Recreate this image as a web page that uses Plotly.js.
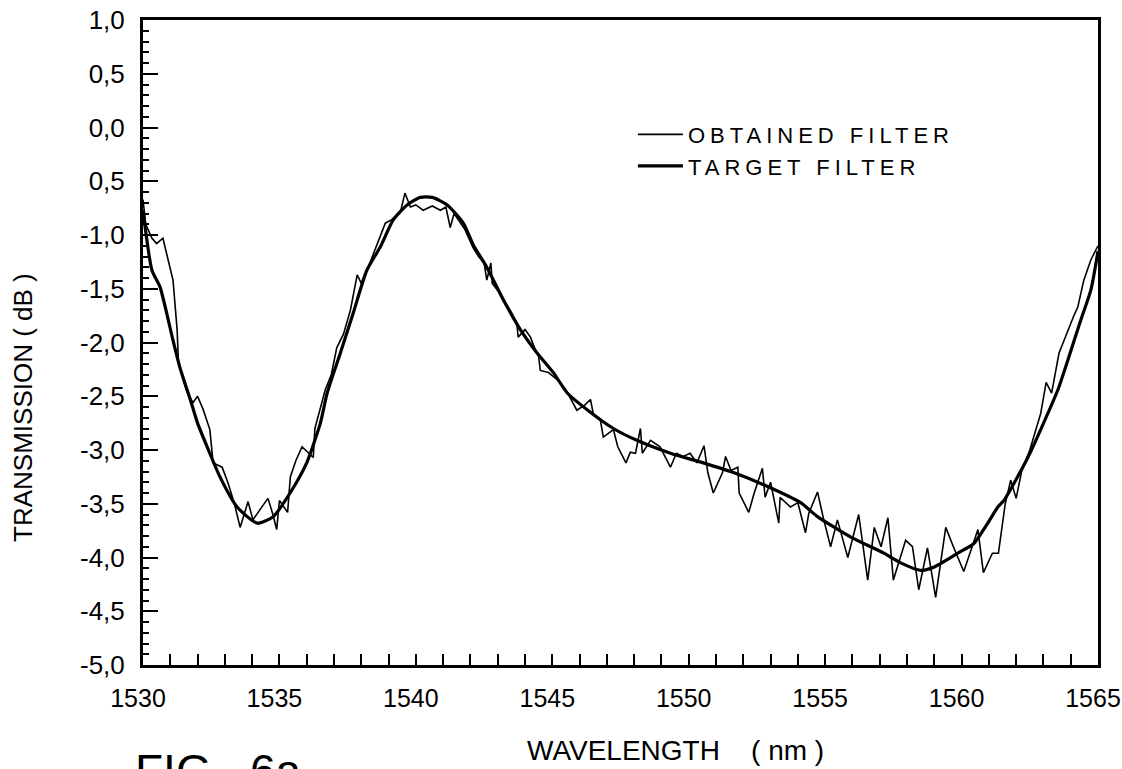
<!DOCTYPE html>
<html>
<head>
<meta charset="utf-8">
<script src="https://cdn.plot.ly/plotly-3.0.1.min.js"></script>
<style>
  html, body { margin: 0; padding: 0; background: #fff; }
  #chart { width: 1122px; height: 769px; }
  .legendtext { letter-spacing: 5px; }
</style>
</head>
<body>
<div id="chart"></div>
<script>
// Wavelength (nm) / transmission (dB)
const targetX = [1530, 1530.33, 1530.62, 1531.1, 1531.36, 1531.72, 1532.0, 1532.35, 1532.82, 1533.45, 1534.18, 1534.77, 1535.39, 1536.0, 1536.5, 1536.75, 1537.23, 1537.7, 1538.2, 1538.7, 1539.17, 1539.68, 1540.16, 1540.6, 1541.15, 1541.74, 1542.1, 1542.6, 1543.2, 1543.83, 1544.45, 1545.04, 1545.55, 1546.3, 1547.24, 1548.1, 1549.33, 1550.54, 1551.64, 1552.89, 1554.1, 1554.72, 1555.94, 1557.15, 1557.77, 1558.5, 1558.98, 1559.86, 1560.45, 1560.96, 1561.33, 1561.55, 1562.43, 1562.9, 1563.53, 1563.9, 1564.37, 1564.74, 1565];
const targetY = [-0.77, -1.33, -1.48, -1.98, -2.24, -2.52, -2.75, -2.97, -3.25, -3.53, -3.68, -3.62, -3.40, -3.12, -2.75, -2.47, -2.1, -1.73, -1.33, -1.11, -0.86, -0.72, -0.65, -0.65, -0.72, -0.89, -1.09, -1.30, -1.60, -1.88, -2.10, -2.28, -2.47, -2.63, -2.80, -2.91, -3.03, -3.12, -3.21, -3.34, -3.49, -3.62, -3.81, -3.96, -4.05, -4.12, -4.09, -3.96, -3.87, -3.68, -3.53, -3.47, -3.07, -2.81, -2.44, -2.16, -1.79, -1.51, -1.15];

const obtainedX = [1530, 1530.1, 1530.33, 1530.5, 1530.73, 1530.9, 1531.1, 1531.25, 1531.3, 1531.6, 1531.83, 1532.0, 1532.2, 1532.45, 1532.57, 1532.9, 1533.12, 1533.35, 1533.56, 1533.85, 1534.03, 1534.3, 1534.58, 1534.75, 1534.9, 1535.0, 1535.3, 1535.4, 1535.6, 1535.83, 1536.05, 1536.24, 1536.3, 1536.68, 1536.9, 1537.1, 1537.35, 1537.6, 1537.85, 1538.0, 1538.33, 1538.6, 1538.88, 1539.1, 1539.43, 1539.6, 1539.8, 1540.0, 1540.27, 1540.6, 1540.9, 1541.1, 1541.26, 1541.4, 1541.8, 1542.1, 1542.3, 1542.5, 1542.6, 1542.75, 1542.8, 1543.1, 1543.5, 1543.7, 1543.75, 1544.0, 1544.2, 1544.35, 1544.5, 1544.56, 1544.86, 1545.2, 1545.5, 1545.9, 1546.2, 1546.4, 1546.5, 1546.76, 1546.87, 1547.24, 1547.4, 1547.7, 1547.86, 1548.05, 1548.23, 1548.3, 1548.6, 1548.95, 1549.33, 1549.55, 1549.8, 1550.05, 1550.3, 1550.56, 1550.7, 1550.9, 1551.24, 1551.35, 1551.55, 1551.8, 1551.85, 1552.2, 1552.4, 1552.7, 1552.8, 1553.0, 1553.3, 1553.35, 1553.73, 1554.0, 1554.28, 1554.4, 1554.72, 1554.95, 1555.2, 1555.45, 1555.83, 1556.23, 1556.56, 1556.8, 1557.05, 1557.3, 1557.5, 1557.95, 1558.2, 1558.43, 1558.75, 1559.05, 1559.42, 1559.7, 1560.08, 1560.6, 1560.8, 1561.13, 1561.35, 1561.6, 1561.8, 1562.0, 1562.2, 1562.5, 1562.9, 1563.1, 1563.3, 1563.57, 1563.9, 1564.1, 1564.26, 1564.48, 1564.74, 1565];
const obtainedY = [-0.67, -0.9, -1.03, -1.08, -1.03, -1.2, -1.42, -1.88, -2.19, -2.45, -2.56, -2.5, -2.62, -2.81, -3.12, -3.16, -3.31, -3.5, -3.72, -3.48, -3.65, -3.55, -3.45, -3.59, -3.74, -3.47, -3.58, -3.25, -3.1, -2.97, -3.02, -3.07, -2.8, -2.44, -2.3, -2.05, -1.92, -1.7, -1.37, -1.45, -1.25, -1.08, -0.89, -0.86, -0.79, -0.61, -0.74, -0.72, -0.77, -0.73, -0.77, -0.74, -0.93, -0.8, -0.95, -1.12, -1.2, -1.26, -1.42, -1.26, -1.45, -1.55, -1.72, -1.82, -1.95, -1.88, -1.95, -2.05, -2.13, -2.26, -2.28, -2.35, -2.44, -2.63, -2.58, -2.53, -2.66, -2.72, -2.88, -2.81, -2.97, -3.12, -3.02, -3.03, -2.80, -3.03, -2.91, -2.97, -3.16, -3.03, -3.06, -3.03, -3.12, -2.96, -3.21, -3.40, -3.21, -3.06, -3.19, -3.16, -3.40, -3.58, -3.40, -3.17, -3.44, -3.30, -3.68, -3.44, -3.53, -3.49, -3.77, -3.59, -3.39, -3.65, -3.90, -3.65, -4.0, -3.60, -4.21, -3.72, -3.90, -3.63, -4.21, -3.84, -3.90, -4.30, -3.91, -4.37, -3.72, -3.90, -4.13, -3.74, -4.14, -3.96, -3.96, -3.5, -3.28, -3.45, -3.2, -3.0, -2.66, -2.37, -2.47, -2.1, -1.88, -1.76, -1.67, -1.42, -1.23, -1.1];

const yTickVals = [1, 0.5, 0, -0.5, -1, -1.5, -2, -2.5, -3, -3.5, -4, -4.5, -5];
const yTickText = ["1,0", "0,5", "0,0", "0,5", "-1,0", "-1,5", "-2,0", "-2,5", "-3,0", "-3,5", "-4,0", "-4,5", "-5,0"];
const xTickVals = [1530, 1535, 1540, 1545, 1550, 1555, 1560, 1565];
const xTickText = ["1530", "1535", "1540", "1545", "1550", "1555", "1560", "1565"];

const FONT = '"Liberation Sans", Arial, sans-serif';

const traces = [
  {
    x: obtainedX, y: obtainedY, type: 'scatter', mode: 'lines',
    name: 'OBTAINED FILTER',
    line: { color: '#000', width: 1.6 }
  },
  {
    x: targetX, y: targetY, type: 'scatter', mode: 'lines',
    name: 'TARGET FILTER',
    line: { color: '#000', width: 3.2, shape: 'spline', smoothing: 0.6 }
  }
];

const layout = {
  width: 1122, height: 769,
  margin: { l: 143, r: 24, t: 20, b: 104 },
  paper_bgcolor: '#fff', plot_bgcolor: '#fff',
  font: { family: FONT, color: '#000' },
  showlegend: true,
  legend: {
    x: 0.513, y: 0.855, xanchor: 'left', yanchor: 'top',
    bgcolor: 'rgba(0,0,0,0)',
    itemwidth: 45,
    font: { family: FONT, size: 22, color: '#000' },
    tracegroupgap: 0
  },
  xaxis: {
    range: [1530, 1565],
    tickmode: 'array', tickvals: xTickVals, ticktext: xTickText,
    ticks: 'inside', ticklen: 11, tickwidth: 2, tickcolor: '#000',
    minor: { dtick: 1, ticks: 'inside', ticklen: 11, tickwidth: 2, tickcolor: '#000' },
    showline: true, linewidth: 3, linecolor: '#000', mirror: true,
    showgrid: false, zeroline: false,
    ticklabeloverflow: 'allow',
    ticklabelshift: -5,
    tickfont: { family: FONT, size: 25, color: '#000' },
    ticklabelstandoff: 9
  },
  yaxis: {
    range: [-5, 1],
    tickmode: 'array', tickvals: yTickVals, ticktext: yTickText,
    ticks: 'inside', ticklen: 15, tickwidth: 2, tickcolor: '#000',
    minor: { dtick: 0.1, ticks: 'inside', ticklen: 6, tickwidth: 2, tickcolor: '#000' },
    showline: true, linewidth: 3, linecolor: '#000', mirror: true,
    showgrid: false, zeroline: false,
    tickfont: { family: FONT, size: 26, color: '#000' },
    ticklabelstandoff: 10
  },
  annotations: [
    {
      text: 'TRANSMISSION ( dB )', textangle: -90,
      xref: 'paper', yref: 'paper', x: -0.1257, y: 0.40,
      xanchor: 'center', yanchor: 'middle', showarrow: false,
      font: { family: FONT, size: 26, color: '#000' }
    },
    {
      text: 'WAVELENGTH\u00a0\u00a0\u00a0\u00a0( nm )',
      xref: 'paper', yref: 'paper', x: 0.558, y: -0.133,
      xanchor: 'center', yanchor: 'middle', showarrow: false,
      font: { family: FONT, size: 28, color: '#000' }
    },
    {
      text: 'FIG.\u00a0\u00a06a',
      xref: 'paper', yref: 'paper', x: -0.0105, y: -0.121,
      xanchor: 'left', yanchor: 'top', showarrow: false,
      font: { family: FONT, size: 46, color: '#000' }
    }
  ]
};

Plotly.newPlot('chart', traces, layout, { staticPlot: true, displayModeBar: false });
</script>
</body>
</html>
